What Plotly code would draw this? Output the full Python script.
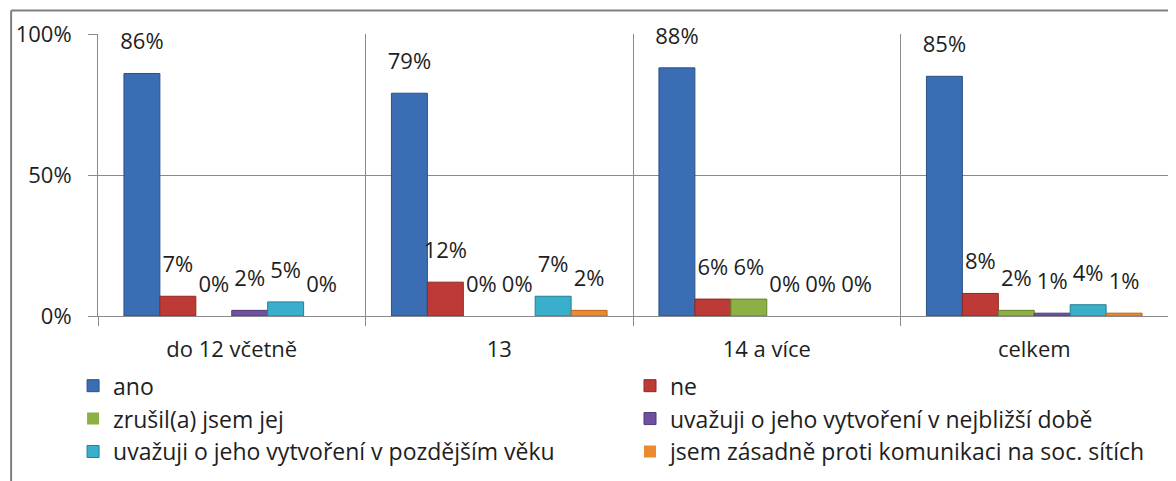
import plotly.graph_objects as go

categories = ["do 12 včetně", "13", "14 a více", "celkem"]
series_names = [
    "ano",
    "ne",
    "zrušil(a) jsem jej",
    "uvažuji o jeho vytvoření v nejbližší době",
    "uvažuji o jeho vytvoření v pozdějším věku",
    "jsem zásadně proti komunikaci na soc. sítích",
]
ano = [86, 79, 88, 85]
ne = [7, 12, 6, 8]
zrusil = [0, 0, 6, 2]
nejblizsi = [2, 0, 0, 1]
pozdejsi = [5, 7, 0, 4]
proti = [0, 2, 0, 1]
series_values = [ano, ne, zrusil, nejblizsi, pozdejsi, proti]
colors = ["#3A6DB3", "#BE3A36", "#8CB044", "#6E52A0", "#3AAFCB", "#EE8A2E"]
edges = ["#2A5185", "#8E2825", "#65812E", "#4F3A76", "#237F95", "#B8661E"]
# legend column of each series (left / right), as in the original two-column legend
legend_ids = ["legend", "legend2", "legend", "legend2", "legend", "legend2"]

FONT = "Open Sans, sans-serif"
TXT = "#1E1E1E"
GRID = "#8A8A8A"
GAP = 0.194

fig = go.Figure()
for i, (name, vals, c, e, lg) in enumerate(zip(series_names, series_values, colors, edges, legend_ids)):
    fig.add_trace(go.Bar(
        x=categories, y=vals, name=name, legend=lg,
        offsetgroup=str(i), alignmentgroup="a",
        marker=dict(color=c, line=dict(color=e, width=[1 if v > 0 else 0 for v in vals])),
        hoverinfo="skip",
    ))
for i, vals in enumerate(series_values):
    fig.add_trace(go.Scatter(
        x=categories, y=vals, mode="markers+text",
        offsetgroup=str(i), alignmentgroup="a",
        marker=dict(size=28, color="rgba(0,0,0,0)"),
        text=[f"{v}%" for v in vals],
        textposition="top center",
        textfont=dict(size=22, color=TXT, family=FONT),
        cliponaxis=False, showlegend=False, hoverinfo="skip",
    ))

legend_style = dict(
    orientation="v", y=-0.171, xanchor="left", yanchor="top",
    font=dict(size=23, family=FONT, color=TXT),
    tracegroupgap=0, itemwidth=30, bgcolor="rgba(0,0,0,0)",
)

# the browser page adds an 8px body margin, compensate in the margins
fig.update_layout(
    width=1168, height=473,
    margin=dict(l=88, r=8, t=26, b=160),
    paper_bgcolor="white", plot_bgcolor="white",
    barmode="group", bargap=GAP, bargroupgap=0,
    scattermode="group", scattergap=GAP,
    font=dict(family=FONT, size=22, color=TXT),
    showlegend=True,
    legend=dict(x=-0.0233, **legend_style),
    legend2=dict(x=0.4972, **legend_style),
    xaxis=dict(
        tickson="boundaries", showgrid=True, gridcolor=GRID, gridwidth=1,
        ticks="outside", ticklen=9, tickcolor=GRID, ticklabelstandoff=14,
        showline=True, linecolor=GRID, mirror=False,
        tickfont=dict(size=22, family=FONT, color=TXT),
    ),
    yaxis=dict(
        range=[0, 100], dtick=50, ticksuffix="%",
        showgrid=True, gridcolor=GRID, gridwidth=1,
        ticks="outside", ticklen=9, tickcolor=GRID, ticklabelstandoff=12,
        showline=True, linecolor=GRID, zeroline=False,
        tickfont=dict(size=22, family=FONT, color=TXT),
    ),
)

# outer chart border (partially visible)
fig.add_shape(type="line", xref="paper", yref="paper",
              x0=-0.0812, x1=-0.0812, y0=1.0836, y1=-0.6,
              line=dict(color="#7F7F7F", width=2))
fig.add_shape(type="line", xref="paper", yref="paper",
              x0=-0.0812, x1=1.01, y0=1.0836, y1=1.0836,
              line=dict(color="#7F7F7F", width=2))

fig.write_html("out.html")
